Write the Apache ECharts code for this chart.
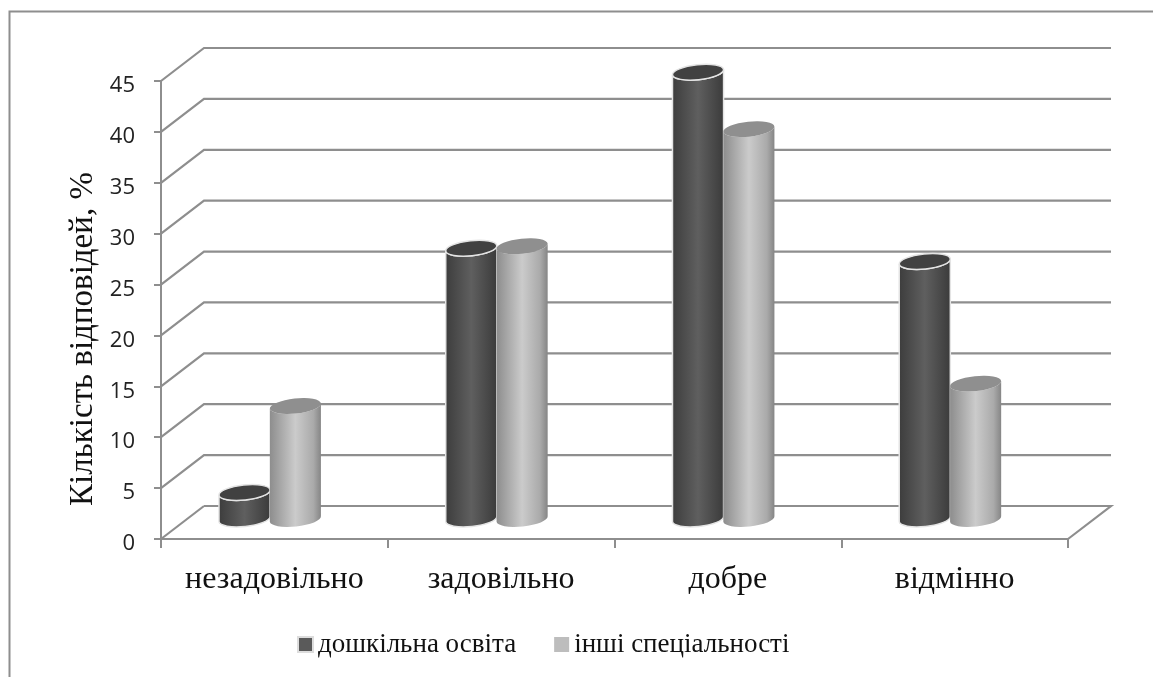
<!DOCTYPE html>
<html><head><meta charset="utf-8">
<style>html,body{margin:0;padding:0;background:#fff}#c{width:1153px;height:677px}</style>
<script src="https://cdn.jsdelivr.net/npm/echarts@6/dist/echarts.min.js"></script>
</head><body><div id="c"></div>
<script>
const categories = ['незадовільно','задовільно','добре','відмінно'];
const preschool = [2.6, 26.6, 43.9, 25.3];
const others = [11.1, 26.8, 38.3, 13.3];
const valueTicks = [0,5,10,15,20,25,30,35,40,45];
const seriesNames = ['дошкільна освіта','інші спеціальності'];
const yTitle = 'Кількість відповідей, %';

const LINE = '#8e8e8e';
const DEPTH_X = 43, DEPTH_Y = 33;
const BASE_UP = 20, SHIFT = -0.0195, BAR = 0.2265, RY = 7.5, TILT = 6;

function wall(params, api){
  const v = api.value(1);
  const p = api.coord([0, v]);
  const w = api.size([1, 0])[0];
  const x0 = p[0] - w / 2, y0 = p[1];
  const pts = v === 0
    ? [[x0 + DEPTH_X, y0 - DEPTH_Y],[x0 + 4 * w + DEPTH_X, y0 - DEPTH_Y],[x0 + 4 * w, y0]]
    : [[x0, y0],[x0 + DEPTH_X, y0 - DEPTH_Y],[x0 + 4 * w + DEPTH_X, y0 - DEPTH_Y]];
  const children = [{type:'polyline', shape:{points:pts}, style:{stroke:LINE, lineWidth:2.2, fill:null}}];
  if (v === 0) children.push({type:'line', shape:{x1:x0,y1:y0,x2:x0+DEPTH_X,y2:y0-DEPTH_Y}, style:{stroke:LINE, lineWidth:2.2}});
  return {type:'group', children};
}

function cylinder(side, stops, topFill, outline){
  return function(params, api){
    const top = api.coord([api.value(0), api.value(1)]);
    const base = api.coord([api.value(0), 0]);
    const w = api.size([1, 0])[0];
    const rx = w * BAR / 2;
    const cx = top[0] + w * SHIFT + side * rx * 0.99;
    const yTop = top[1] - BASE_UP, yBase = base[1] - BASE_UP;
    const t = TILT * Math.PI / 180;
    const dx = rx * Math.cos(t), dy = rx * Math.sin(t);
    const arc = (sweep, x, y) => `A ${rx} ${RY} ${-TILT} 0 ${sweep} ${x} ${y}`;
    const body = `M ${cx-dx} ${yTop+dy} L ${cx-dx} ${yBase+dy} ${arc(0,cx+dx,yBase-dy)} L ${cx+dx} ${yTop-dy} ${arc(1,cx-dx,yTop+dy)} Z`;
    const cap = `M ${cx-dx} ${yTop+dy} ${arc(0,cx+dx,yTop-dy)} ${arc(0,cx-dx,yTop+dy)} Z`;
    return {type:'group', children:[
      {type:'path', shape:{pathData:body}, style:{
        fill:new echarts.graphic.LinearGradient(0,0,1,0,stops),
        stroke:outline, lineWidth:outline?1.5:0}},
      {type:'path', shape:{pathData:cap}, style:{fill:topFill, stroke:outline, lineWidth:outline?1.5:0}}
    ]};
  };
}

const darkStops = [{offset:0,color:'#3c3c3c'},{offset:.5,color:'#5f5f5f'},{offset:1,color:'#3a3a3a'}];
const lightStops = [{offset:0,color:'#8d8d8d'},{offset:.5,color:'#cbcbcb'},{offset:.85,color:'#aaaaaa'},{offset:1,color:'#858585'}];

const chart = echarts.init(document.getElementById('c'), null, {renderer:'canvas'});
chart.setOption({
  animation:false,
  backgroundColor:'#fff',
  grid:{left:161, right:85, top:81, bottom:138, containLabel:false},
  legend:{
    data:seriesNames, left:297, top:631, padding:0, itemWidth:15, itemHeight:15, itemGap:38,
    icon:'rect', selectedMode:false,
    textStyle:{fontFamily:'Liberation Serif', fontSize:27, color:'#111'}
  },
  xAxis:{
    type:'category', data:categories, boundaryGap:true,
    axisLine:{lineStyle:{color:LINE,width:2}},
    axisTick:{show:true,length:9,alignWithLabel:false,lineStyle:{color:LINE,width:2}},
    axisLabel:{interval:0,margin:25,fontFamily:'Liberation Serif',fontSize:32,color:'#111'}
  },
  yAxis:{
    type:'value', min:0, max:45, interval:5,
    splitLine:{show:false},
    axisLine:{show:true,lineStyle:{color:LINE,width:2}},
    axisTick:{show:true,length:7,lineStyle:{color:LINE,width:2}},
    axisLabel:{margin:26,formatter:'{n|{value}}',
      rich:{n:{fontFamily:'Open Sans',fontSize:22,color:'#222',padding:[10,0,0,0]}}}
  },
  graphic:[
    {type:'polyline', shape:{points:[[9.5,677],[9.5,11.5],[1153,11.5]]}, style:{stroke:LINE,lineWidth:2,fill:null}, silent:true},
    {type:'text', x:83, y:339, rotation:Math.PI/2, style:{text:yTitle,fontFamily:'Liberation Serif',fontSize:33,fill:'#111',align:'center',verticalAlign:'middle'}, silent:true}
  ],
  series:[
    {type:'custom', name:'walls', renderItem:wall, silent:true, z:1, clip:false,
     data:valueTicks.map(v=>[categories[0],v]), encode:{x:0,y:1}},
    {type:'custom', name:seriesNames[0], renderItem:cylinder(-1,darkStops,'#414141','#e4e4e4'), silent:true, z:2, clip:false,
     itemStyle:{color:'#5a5a5a',borderColor:'#dddddd',borderWidth:1},
     data:categories.map((c,i)=>[c,preschool[i]]), encode:{x:0,y:1}},
    {type:'custom', name:seriesNames[1], renderItem:cylinder(1,lightStops,'#8f8f8f',null), silent:true, z:3, clip:false,
     itemStyle:{color:'#bdbdbd'},
     data:categories.map((c,i)=>[c,others[i]]), encode:{x:0,y:1}}
  ]
});
</script></body></html>
